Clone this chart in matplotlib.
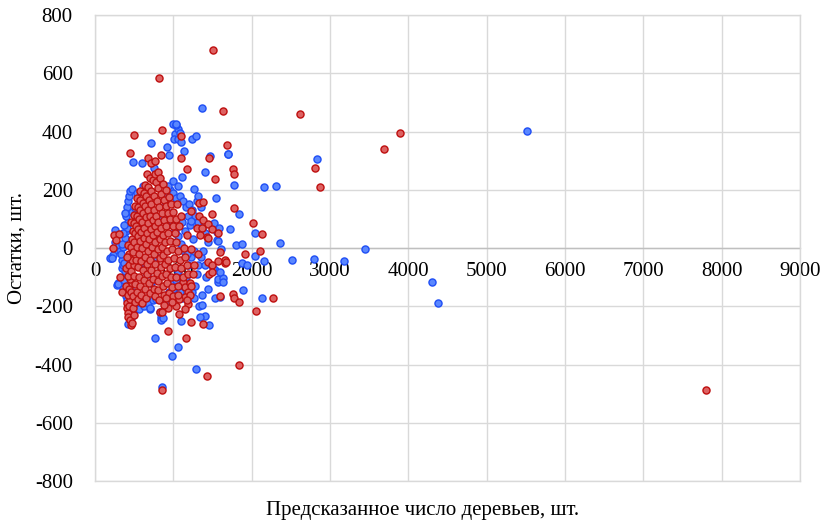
import matplotlib
matplotlib.use("Agg")
import matplotlib.pyplot as plt

# ---------------- data ----------------
x_ticks = [0, 1000, 2000, 3000, 4000, 5000, 6000, 7000, 8000, 9000]
y_ticks = [-800, -600, -400, -200, 0, 200, 400, 600, 800]
x_label = "Предсказанное число деревьев, шт."
y_label = "Остатки, шт."

# blue series: (predicted, residual)
blue_pts = [
    (208, -36), (225, -24), (191, -36), (255, 62), (276, 45), (213, -36), (276, -127), (297, -121),
    (289, -124), (250, 20), (300, 10), (320, -10), (340, -40), (350, -70), (360, 5), (380, 35),
    (400, 60), (404, 68), (425, 90), (468, 125), (510, 136), (360, -60), (380, -100), (400, -130),
    (420, -160), (425, -262), (440, -215), (470, -180), (480, -150), (330, -20), (345, 15), (355, 50),
    (365, 80), (375, -50), (385, -80), (370, -110), (390, 110), (405, 140), (420, 160), (435, 180),
    (450, 195), (380, 120), (360, -140), (395, -165), (410, -180), (430, -200), (445, -220), (455, -240),
    (475, -210), (500, -190), (520, -200), (560, -210), (600, -180), (620, -200), (680, -190), (697, -211),
    (740, -180), (780, -175), (829, -219), (842, -236), (842, -246), (871, -242), (900, -190), (950, -150),
    (980, -120), (1000, -140), (1030, -110), (1060, -80), (1080, -150), (1110, -172), (1130, -130),
    (1160, -100), (1190, -60), (1230, -30), (1234, -150), (1260, -170), (1280, -130), (1300, -90),
    (1320, -60), (1350, -30), (1380, -10), (1400, -60), (1420, -100), (1440, -140), (1360, -160),
    (1330, -200), (900, 150), (920, 180), (960, 200), (1000, 190), (1040, 170), (1080, 180), (1120, 160),
    (1160, 140), (1200, 150), (1240, 130), (1280, 110), (1320, 90), (1360, 70), (1400, 50), (1440, 20),
    (1350, 140), (1300, 160), (940, 120), (980, 90), (1020, 60), (1060, 40), (1100, 15), (1140, -10),
    (1180, -20), (700, 120), (650, 80), (600, 60), (560, 30), (540, 0), (620, -50), (660, -90),
    (720, -120), (780, -30), (820, 40), (860, 100), (750, 70), (1150, 60), (1210, 80), (1250, 30),
    (1190, 110), (1110, 90), (1270, -10),
    (480, 296), (595, 293), (710, 362), (468, 203), (531, 190), (607, 214), (757, 274), (808, 224),
    (935, 213), (991, 231), (922, 347), (947, 321), (999, 426), (1020, 391), (1008, 373), (1063, 375),
    (1054, 410), (1037, 424), (1084, 394), (1093, 363), (1241, 374), (1284, 384), (1139, 333),
    (1462, 317), (1696, 323), (1403, 261), (1777, 216), (1114, 243), (1054, 213), (1258, 203),
    (1318, 179), (1540, 173), (2160, 211), (2309, 213), (1841, 117), (1726, 64), (2041, 50), (1806, 10),
    (1879, 14), (1559, 56), (1559, 27), (1565, 23), (1522, 85), (1586, 69), (1220, 93), (2364, 18),
    (2037, -26), (2513, -41), (2797, -38), (3184, -45), (3448, -3), (2160, -45), (1603, -4),
    (1573, -117), (1573, -105), (1526, -76), (1880, -50), (1944, -57), (760, -310), (1059, -341),
    (982, -370), (1288, -417), (850, -478), (1093, -249), (1458, -266), (1403, -234), (1369, -195),
    (1531, -173), (1594, -167), (1884, -145), (2126, -173), (1628, -102), (1637, -118), (1339, -236),
    (702, -207), (1505, -70), (1594, -81), (4302, -117), (4383, -189), (5518, 402), (1369, 481),
    (1029, 426), (2836, 306), (1700, 322),
]

# red series: (predicted, residual)
red_pts = [
    (1500, 680), (812, 584), (1633, 471), (2623, 460), (502, 387), (859, 405), (1101, 383), (3898, 395),
    (3690, 339), (446, 326), (680, 308), (710, 291), (769, 298), (846, 318), (1097, 309), (1680, 353),
    (1458, 308), (1170, 271), (659, 254), (1764, 270), (1777, 253), (1535, 237), (2806, 275), (2878, 211),
    (1322, 155), (1378, 158), (1769, 139), (1488, 116), (1224, 128), (1327, 109), (1374, 95), (1446, 84),
    (1492, 66), (1569, 53), (1433, 37), (2011, 85), (2126, 47), (1913, -21), (2109, -11), (319, -101),
    (348, -152), (829, -220), (935, -285), (1161, -310), (1424, -441), (1837, -403), (859, -489),
    (1071, -227), (1224, -254), (1373, -261), (1190, -192), (1590, -165), (1760, -157), (1777, -172),
    (1837, -186), (2275, -173), (2049, -215), (1450, -88), (1658, -50), (1658, -41), (7797, -488),
    (242, 45), (306, 47), (264, 27), (233, 1), (1598, -13), (1297, 68), (1361, 68), (1339, 45), (1437, 36),
    (1126, -116), (1148, -133), (1190, -150), (1148, -167), (1212, -162), (1445, -47), (1488, -58),
    (1488, -81), (1573, -45), (1667, -47),
    (405, -190), (412, -207), (420, -224), (426, -236), (446, -247), (455, -265), (470, -258), (440, -200),
    (452, -175), (418, -160), (398, -130), (430, -140), (460, -150), (482, -165), (495, -230), (488, -205),
    (510, -185), (470, -120), (445, -105), (420, -95), (395, -70), (430, -60), (460, -80), (492, -95),
    (515, -125), (530, -150), (545, -175), (500, -60), (475, -40), (440, -20), (410, -30), (420, 10),
    (455, 5), (490, -15), (520, -40), (550, -65), (560, -100), (575, -130), (590, -160), (600, -190),
    (470, 30), (500, 20), (530, 5), (560, -20), (590, -45), (615, -75), (625, -110), (640, -140),
    (655, -170), (480, 60), (510, 50), (545, 40), (575, 25), (605, 0), (635, -30), (660, -55), (670, -90),
    (690, -120), (700, -155), (460, 90), (495, 85), (525, 75), (555, 65), (590, 55), (620, 35), (650, 15),
    (680, -10), (705, -40), (720, -75), (740, -105), (750, -140), (760, -165), (500, 115), (535, 110),
    (565, 100), (600, 90), (630, 70), (665, 50), (695, 30), (725, 5), (750, -20), (770, -55), (790, -85),
    (800, -115), (810, -145), (820, -180), (510, 145), (545, 140), (580, 130), (615, 120), (645, 105),
    (680, 85), (710, 65), (740, 45), (770, 20), (800, -5), (825, -35), (840, -65), (855, -95), (865, -130),
    (875, -160), (540, 170), (575, 165), (610, 155), (640, 145), (675, 130), (705, 110), (735, 95),
    (765, 75), (795, 55), (825, 30), (850, 5), (870, -25), (890, -55), (905, -90), (920, -120), (940, -155),
    (580, 195), (620, 190), (655, 180), (690, 165), (720, 150), (750, 130), (780, 110), (810, 90),
    (840, 70), (870, 45), (895, 20), (915, -10), (935, -40), (955, -70), (970, -100), (985, -135),
    (1000, -165), (640, 215), (680, 210), (715, 195), (750, 180), (790, 160), (820, 140), (850, 120),
    (880, 95), (910, 75), (935, 50), (960, 25), (985, -5), (1005, -35), (1025, -65), (1040, -100),
    (1060, -130), (1070, -175), (700, 240), (740, 235), (775, 225), (810, 205), (845, 185), (875, 165),
    (905, 145), (930, 120), (960, 100), (990, 75), (1015, 50), (1040, 20), (1060, -10), (1080, -40),
    (1100, -70), (1120, -100), (760, 255), (800, 260), (835, 240), (870, 220), (900, 200), (940, 175),
    (970, 150), (1000, 125), (1030, 100), (1070, 75), (1130, 0), (1150, -30),
    (1170, -60), (1190, -90), (1210, -120), (1050, 150), (1100, 110), (1180, 45), (1225, -5),
    (1260, -60), (1320, -20), (1250, -90), (1230, -130), (1180, -180), (1060, -160), (1030, -200),
    (985, -185), (900, -170), (935, -205), (880, -195), (850, -220), (1150, -210),
]

bx = [p[0] for p in blue_pts]
by = [p[1] for p in blue_pts]
rx = [p[0] for p in red_pts]
ry = [p[1] for p in red_pts]

# ---------------- figure ----------------
plt.rcParams['font.family'] = ['Liberation Serif', 'DejaVu Serif']
fig = plt.figure(figsize=(8.26, 5.23), dpi=100)
ax = fig.add_axes([95 / 826, 1 - 481 / 523, 705 / 826, 466 / 523])

ax.scatter(bx, by, s=26, facecolor='#5A87FF', edgecolor='#1F4EF5', linewidths=1.0, zorder=3)
ax.scatter(rx, ry, s=26, facecolor='#DD6262', edgecolor='#BE0F0F', linewidths=1.0, zorder=4)

ax.set_xlim(0, 9000)
ax.set_ylim(-800, 800)
ax.set_xticks(x_ticks)
ax.set_yticks(y_ticks)
ax.set_xticklabels([str(v) for v in x_ticks])
ax.set_yticklabels([str(v) for v in y_ticks])
ax.grid(True, color='#D9D9D9', linewidth=1.0, zorder=0)
ax.set_axisbelow(True)

for side in ['top', 'right', 'left']:
    ax.spines[side].set_color('#D9D9D9')
    ax.spines[side].set_linewidth(1.0)
ax.spines['bottom'].set_position(('data', 0))
ax.spines['bottom'].set_color('#BFBFBF')
ax.spines['bottom'].set_linewidth(1.0)
ax.spines['bottom'].set_zorder(1)

ax.tick_params(axis='x', length=0, pad=10, labelsize=15, colors='black')
ax.tick_params(axis='y', length=0, pad=16, labelsize=15, colors='black')
ax.plot([0, 9000], [-800, -800], color='#D9D9D9', lw=1.0, clip_on=False, zorder=0)

ax.set_ylabel(y_label, fontsize=15, labelpad=6)
fig.text(423 / 826, 1 - 510 / 523, x_label, fontsize=15, ha='center', va='center')

fig.savefig("out.png", dpi=100)
